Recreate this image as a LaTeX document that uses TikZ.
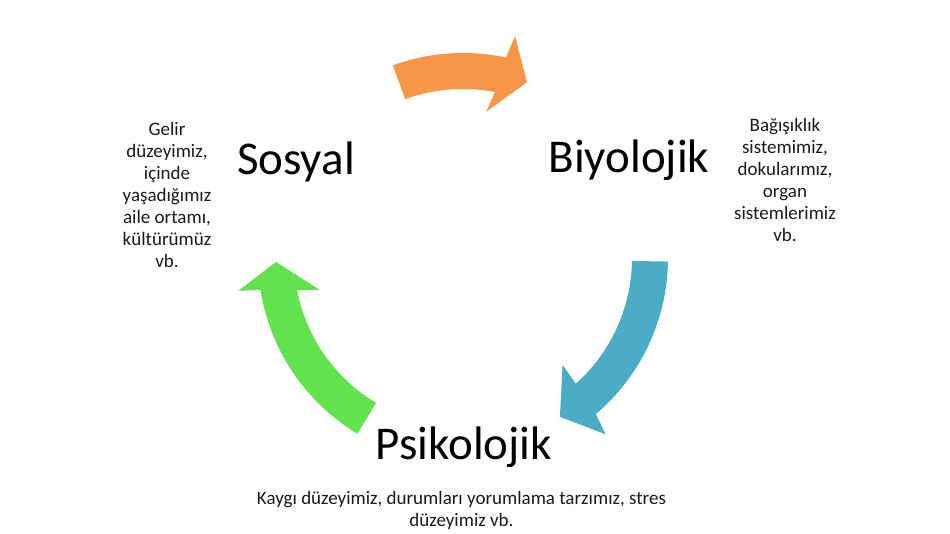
\documentclass[tikz,border=0pt]{standalone}
\usepackage{fontspec}
\setmainfont{Carlito}
\definecolor{orangeA}{HTML}{F79646}
\definecolor{blueA}{HTML}{4BACC6}
\definecolor{greenA}{HTML}{62E24C}
\definecolor{textgray}{HTML}{1A1A1A}
\begin{document}
\begin{tikzpicture}[x=1pt,y=1pt,
  big/.style={font=\fontsize{47}{56}\selectfont, inner sep=0pt, anchor=base, text=black},
  small/.style={font=\fontsize{19}{22}\selectfont, inner sep=0pt, anchor=base, align=center, text=textgray},
  cyclearrow/.style={draw=none}]
\useasboundingbox[fill=white] (0,0) rectangle (950,534);
\coordinate (c) at (463,276);
\begin{scope}[shift={(c)}]
  % orange: Sosyal -> Biyolojik
  \fill[orangeA, cyclearrow] (110:205pt) arc[start angle=110, end angle=77.9, radius=205pt]
    -- (76.8:228pt) -- (70:187pt) -- (81:148pt) -- (79.1:169pt)
    arc[start angle=79.1, end angle=110, radius=169pt] -- cycle;
  % blue: Biyolojik -> Psikolojik
  \fill[blueA, cyclearrow] (-1:205pt) arc[start angle=-1, end angle=-49.6, radius=205pt]
    -- (-51:227pt) -- (-58.6:186pt) -- (-47:146pt) -- (-48.1:169pt)
    arc[start angle=-48.1, end angle=-1, radius=169pt] -- cycle;
  % green: Psikolojik -> Sosyal
  \fill[greenA, cyclearrow] (-121:205pt) arc[start angle=-121, end angle=-171, radius=205pt]
    -- (-171.7:227pt) -- (-178.8:187pt) -- (-167.5:147pt) -- (-169:169pt)
    arc[start angle=-169, end angle=-121, radius=169pt] -- cycle;
\end{scope}
\node[big] (sosyal) at (296,359) {Sosyal};
\node[big] (biyo) at (629,361) {Biyolojik};
\node[big] (psiko) at (464,74) {Psikolojik};
\node[small] (sosyaltxt) at (167,266) {Gelir\\düzeyimiz,\\içinde\\yaşadığımız\\aile ortamı,\\kültürümüz\\vb.};
\node[small] (biyotxt) at (785,292) {Bağışıklık\\sistemimiz,\\dokularımız,\\organ\\sistemlerimiz\\vb.};
\node[small] (psikotxt) at (461.5,7) {Kaygı düzeyimiz, durumları yorumlama tarzımız, stres\\düzeyimiz vb.};
\end{tikzpicture}
\end{document}
